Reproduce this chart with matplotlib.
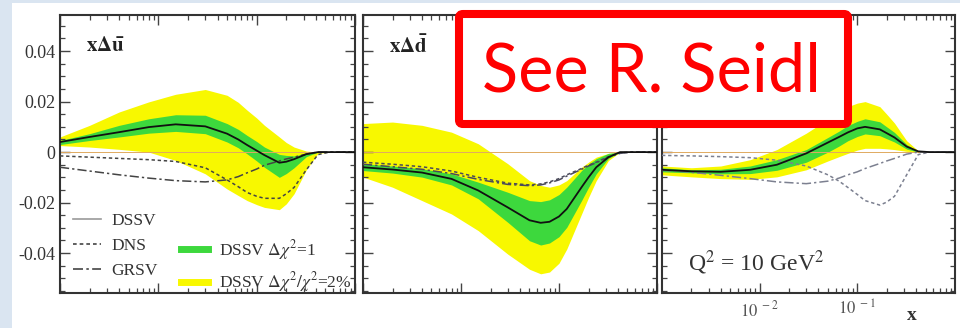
import numpy as np
import matplotlib
matplotlib.use("Agg")
import matplotlib.pyplot as plt
from matplotlib.lines import Line2D
from matplotlib.patches import Rectangle, FancyBboxPatch
from matplotlib.ticker import MultipleLocator, LogLocator, NullFormatter

plt.rcParams['font.family'] = ['Liberation Serif', 'DejaVu Serif']
plt.rcParams['mathtext.fontset'] = 'stix'

# common x grid
x = [0.001, 0.002, 0.004, 0.008, 0.015, 0.03, 0.05, 0.065, 0.08, 0.1, 0.12, 0.17, 0.2, 0.24, 0.32, 0.42, 0.55, 1.0]

# x Delta u-bar
ubar_c = [0.0040, 0.0060, 0.0079, 0.0099, 0.0110, 0.0102, 0.0073, 0.0050, 0.0028, 0.0006, -0.0012, -0.0042, -0.0038, -0.0028, -0.0008, 0.0, 0.0, 0.0]
ubar_g_hi = [0.0046, 0.0073, 0.0106, 0.0132, 0.0148, 0.0146, 0.0113, 0.0090, 0.0066, 0.0042, 0.0020, -0.0009, -0.0013, -0.0015, -0.0005, 0.0, 0.0, 0.0]
ubar_g_lo = [0.0030, 0.0046, 0.0060, 0.0075, 0.0082, 0.0073, 0.0040, 0.0017, -0.0007, -0.0035, -0.0060, -0.0100, -0.0085, -0.0062, -0.0018, 0.0, 0.0, 0.0]
ubar_y_hi = [0.0060, 0.0106, 0.0159, 0.0199, 0.0229, 0.0248, 0.0225, 0.0197, 0.0166, 0.0135, 0.0106, 0.0060, 0.0038, 0.0020, 0.0004, 0.0, 0.0, 0.0]
ubar_y_lo = [0.0026, 0.0020, 0.0011, 0.0000, -0.0033, -0.0086, -0.0146, -0.0172, -0.0192, -0.0208, -0.0219, -0.0228, -0.0205, -0.0165, -0.0070, -0.0005, 0.0, 0.0]
ubar_dns = [-0.0015, -0.0020, -0.0025, -0.0030, -0.0037, -0.0062, -0.0110, -0.0137, -0.0160, -0.0175, -0.0183, -0.0183, -0.0165, -0.0140, -0.0070, -0.0010, 0.0, 0.0]
ubar_grsv = [-0.0060, -0.0075, -0.0090, -0.0103, -0.0113, -0.0118, -0.0110, -0.0097, -0.0082, -0.0067, -0.0052, -0.0035, -0.0027, -0.0020, -0.0008, 0.0, 0.0, 0.0]

# x Delta d-bar
dbar_c = [-0.0060, -0.0069, -0.0081, -0.0106, -0.0152, -0.0219, -0.0270, -0.0280, -0.0276, -0.0255, -0.0225, -0.0139, -0.0100, -0.0060, -0.0020, 0.0, 0.0, 0.0]
dbar_g_hi = [-0.0046, -0.0055, -0.0066, -0.0086, -0.0119, -0.0159, -0.0192, -0.0196, -0.0189, -0.0168, -0.0139, -0.0073, -0.0048, -0.0026, -0.0005, 0.0, 0.0, 0.0]
dbar_g_lo = [-0.0073, -0.0083, -0.0099, -0.0130, -0.0185, -0.0278, -0.0351, -0.0368, -0.0360, -0.0335, -0.0298, -0.0192, -0.0140, -0.0086, -0.0025, 0.0, 0.0, 0.0]
dbar_y_hi = [0.0113, 0.0119, 0.0106, 0.0079, 0.0033, -0.0046, -0.0113, -0.0132, -0.0139, -0.0130, -0.0113, -0.0060, -0.0040, -0.0020, -0.0005, 0.0, 0.0, 0.0]
dbar_y_lo = [-0.0099, -0.0139, -0.0192, -0.0245, -0.0311, -0.0404, -0.0464, -0.0482, -0.0475, -0.0440, -0.0384, -0.0245, -0.0180, -0.0113, -0.0033, 0.0, 0.0, 0.0]
dbar_dns = [-0.0040, -0.0048, -0.0058, -0.0075, -0.0100, -0.0123, -0.0130, -0.0126, -0.0118, -0.0105, -0.0090, -0.0065, -0.0052, -0.0040, -0.0018, -0.0003, 0.0, 0.0]
dbar_grsv = [-0.0048, -0.0058, -0.0068, -0.0085, -0.0108, -0.0128, -0.0133, -0.0130, -0.0122, -0.0110, -0.0095, -0.0068, -0.0055, -0.0042, -0.0020, -0.0005, 0.0, 0.0]

# x Delta s-bar
sbar_c = [-0.0070, -0.0076, -0.0078, -0.0070, -0.0050, -0.0005, 0.0038, 0.0060, 0.0078, 0.0094, 0.0100, 0.0090, 0.0075, 0.0058, 0.0022, 0.0003, 0.0, 0.0]
sbar_g_hi = [-0.0062, -0.0070, -0.0068, -0.0055, -0.0030, 0.0010, 0.0058, 0.0083, 0.0105, 0.0122, 0.0132, 0.0120, 0.0100, 0.0078, 0.0030, 0.0003, 0.0, 0.0]
sbar_g_lo = [-0.0078, -0.0082, -0.0086, -0.0085, -0.0072, -0.0040, 0.0000, 0.0024, 0.0045, 0.0062, 0.0072, 0.0065, 0.0053, 0.0040, 0.0012, 0.0, 0.0, 0.0]
sbar_y_hi = [-0.0055, -0.0062, -0.0055, -0.0030, 0.0010, 0.0075, 0.0130, 0.0157, 0.0180, 0.0194, 0.0200, 0.0180, 0.0150, 0.0115, 0.0045, 0.0005, 0.0, 0.0]
sbar_y_lo = [-0.0090, -0.0098, -0.0105, -0.0108, -0.0098, -0.0070, -0.0035, -0.0018, -0.0005, 0.0008, 0.0015, 0.0015, 0.0013, 0.0010, 0.0003, 0.0, 0.0, 0.0]
sbar_dns = [-0.0013, -0.0015, -0.0018, -0.0022, -0.0032, -0.0055, -0.0090, -0.0115, -0.0140, -0.0168, -0.0192, -0.0210, -0.0198, -0.0175, -0.0090, -0.0010, 0.0, 0.0]
sbar_grsv = [-0.0072, -0.0080, -0.0092, -0.0105, -0.0118, -0.0125, -0.0115, -0.0103, -0.0090, -0.0078, -0.0065, -0.0045, -0.0035, -0.0025, -0.0008, 0.0, 0.0, 0.0]

yticks = [-0.04, -0.02, 0.0, 0.02, 0.04]
yticklabels = ["-0.04", "-0.02", "0", "0.02", "0.04"]
xticks = [0.01, 0.1]
xticklabels = [r"$10^{\ -2}$", r"$10^{\ -1}$"]

GREEN = "#3dd83d"
YELLOW = "#f8f800"

panels = [
    (r"$\mathbf{x\Delta\bar{u}}$", ubar_c, ubar_g_lo, ubar_g_hi, ubar_y_lo, ubar_y_hi, ubar_dns, ubar_grsv, "#444444"),
    (r"$\mathbf{x\Delta\bar{d}}$", dbar_c, dbar_g_lo, dbar_g_hi, dbar_y_lo, dbar_y_hi, dbar_dns, dbar_grsv, "#4a4a5a"),
    (None, sbar_c, sbar_g_lo, sbar_g_hi, sbar_y_lo, sbar_y_hi, sbar_dns, sbar_grsv, "#7c8090"),
]

fig = plt.figure(figsize=(9.6, 3.28), dpi=100, facecolor="#dae5f1")
fig.add_artist(Rectangle((12 / 960, 0), 1, 1 - 3 / 328, transform=fig.transFigure,
                         facecolor="white", edgecolor="none", zorder=-5))

lefts = [60 / 960, 363 / 960, 662 / 960]
widths = [295 / 960, 294 / 960, 293 / 960]
bottom, height = 1 - 293 / 328, 278 / 328

axes = []
for i, (lab, c, glo, ghi, ylo, yhi, dns, grsv, lc) in enumerate(panels):
    ax = fig.add_axes([lefts[i], bottom, widths[i], height])
    axes.append(ax)
    ax.set_xscale("log")
    ax.fill_between(x, ylo, yhi, color=YELLOW, lw=0, zorder=1)
    ax.fill_between(x, glo, ghi, color=GREEN, lw=0, zorder=2)
    ax.axhline(0, color="#e0aa60", lw=0.7, zorder=2.5)
    ax.plot(x, dns, color=lc, lw=1.1, dashes=(2.2, 1.8), zorder=3)
    ax.plot(x, grsv, color=lc, lw=1.1, dashes=(6, 2, 1.5, 2), zorder=3)
    ax.plot(x, c, color="#111111", lw=1.3, zorder=4)

    ax.set_xlim(1e-3, 1)
    ax.set_ylim(-0.0558, 0.0543)
    ax.yaxis.set_major_locator(MultipleLocator(0.02))
    ax.yaxis.set_minor_locator(MultipleLocator(0.005))
    ax.xaxis.set_major_locator(LogLocator(base=10))
    ax.xaxis.set_minor_locator(LogLocator(base=10, subs=np.arange(2, 10)))
    ax.xaxis.set_minor_formatter(NullFormatter())
    ax.tick_params(which="both", direction="in", top=True, right=True, colors="#444444")
    ax.tick_params(which="major", length=7, width=1.0)
    ax.tick_params(which="minor", length=3.5, width=0.9)
    for sp in ax.spines.values():
        sp.set_linewidth(1.5)
        sp.set_color("#333333")

    ax.set_yticks(yticks)
    if i == 0:
        ax.set_yticklabels(yticklabels, fontsize=13, color="#333333")
    else:
        ax.set_yticklabels([])
    if i == 2:
        ax.set_xticks(xticks)
        ax.set_xticklabels(xticklabels, fontsize=12, color="#555555")
        ax.tick_params(axis="x", which="major", pad=5)
    else:
        ax.set_xticklabels([])
    if lab:
        ax.text(0.088, 0.885, lab, transform=ax.transAxes, fontsize=15, color="#222222", va="center")

axes[2].text(0.09, 0.108, r"Q$^2$ = 10 GeV$^2$", transform=axes[2].transAxes,
             fontsize=17, color="#333333", va="center")
fig.text(912 / 960, 1 - 316 / 328, "x", fontsize=14, fontweight="bold", color="#333333",
         ha="center", va="center")

# legend in the first panel
handles = [
    Line2D([], [], color="#999999", lw=1.2),
    Line2D([], [], color="#444444", lw=1.2, dashes=(2.2, 1.8)),
    Line2D([], [], color="#444444", lw=1.2, dashes=(6, 2, 1.5, 2)),
    Line2D([], [], color="none"),
    Line2D([], [], color=GREEN, lw=5),
    Line2D([], [], color=YELLOW, lw=5),
]
labels = ["DSSV", "DNS", "GRSV", "", r"DSSV $\Delta\chi^2$=1", r"DSSV $\Delta\chi^2/\chi^2$=2%"]
axes[0].legend(handles, labels, loc="lower left", ncol=2, frameon=False, fontsize=12.5,
               handlelength=1.6, handletextpad=0.6, columnspacing=1.3, labelspacing=0.5,
               borderaxespad=0.0, bbox_to_anchor=(0.022, -0.03), labelcolor="#333333")

# overlay note box
ov = fig.add_axes([0, 0, 1, 1], zorder=10)
ov.set_xlim(0, 960)
ov.set_ylim(328, 0)
ov.axis("off")
ov.patch.set_alpha(0)
ov.add_patch(FancyBboxPatch((459, 14), 389, 110, boxstyle="round,pad=0,rounding_size=4",
                            facecolor="white", edgecolor="#ff0000", lw=5.8))
ov.text(651, 92, "See R. Seidl", color="#ff0000", fontsize=48, family=["Lato", "DejaVu Sans"],
        ha="center", va="baseline")

fig.savefig("out.png", dpi=100, facecolor=fig.get_facecolor())
